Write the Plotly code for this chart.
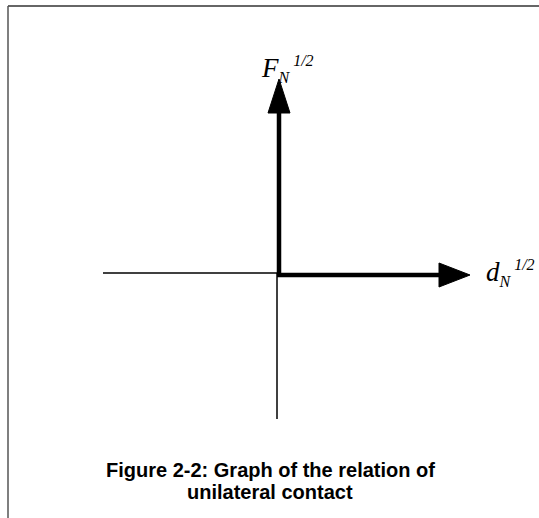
import plotly.graph_objects as go

# ---- data (diagram units, origin at the axes crossing) ----
thin_h_x = [-174, 0]
thin_h_y = [0, 0]
thin_v_x = [0, 0]
thin_v_y = [0, -146]

thick_v_x = [2, 2]
thick_v_y = [-1, 166]
thick_v_tip = 194
thick_v_half = 11

thick_h_x = [0, 162]
thick_h_y = [-2, -2]
thick_h_tip = 193
thick_h_half = 12

small = "<span style='font-size:16px'><i>{}</i></span>"
label_f = "<i>F</i><sub>" + small.format("N") + "</sub><sup>" + small.format(" 1/2") + "</sup>"
label_d = "<i>d</i><sub>" + small.format("N") + "</sub><sup>" + small.format(" 1/2") + "</sup>"
caption_lines = ["Figure 2-2: Graph of the relation of", "unilateral contact"]
caption_y_px = [470, 492]

W, H = 539, 518
X_RANGE = [-277, 262]
Y_RANGE = [-245, 273]

fig = go.Figure()

# thin axes lines
fig.add_trace(go.Scatter(x=thin_h_x, y=thin_h_y, mode="lines",
                         line=dict(color="black", width=1.5), hoverinfo="skip"))
fig.add_trace(go.Scatter(x=thin_v_x, y=thin_v_y, mode="lines",
                         line=dict(color="black", width=1.5), hoverinfo="skip"))

# thick arrows (shafts)
fig.add_trace(go.Scatter(x=thick_v_x, y=thick_v_y, mode="lines",
                         line=dict(color="black", width=4.5), hoverinfo="skip"))
fig.add_trace(go.Scatter(x=thick_h_x, y=thick_h_y, mode="lines",
                         line=dict(color="black", width=4.5), hoverinfo="skip"))

# arrow heads (built from the shaft ends)
vx = thick_v_x[1]
vy = thick_v_y[1]
fig.add_trace(go.Scatter(
    x=[vx - thick_v_half, vx + thick_v_half, vx, vx - thick_v_half],
    y=[vy - 6, vy - 6, thick_v_tip, vy - 6],
    mode="lines", fill="toself", fillcolor="black",
    line=dict(color="black", width=1), hoverinfo="skip"))
hx = thick_h_x[1]
hy = thick_h_y[1]
fig.add_trace(go.Scatter(
    x=[hx, hx, thick_h_tip, hx],
    y=[hy - thick_h_half, hy + thick_h_half, hy, hy - thick_h_half],
    mode="lines", fill="toself", fillcolor="black",
    line=dict(color="black", width=1), hoverinfo="skip"))

# axis labels
fig.add_annotation(x=-18, y=204, text=label_f, showarrow=False,
                   xanchor="left", yanchor="middle",
                   font=dict(family="Liberation Serif", size=27, color="black"))
fig.add_annotation(x=207, y=0, text=label_d, showarrow=False,
                   xanchor="left", yanchor="middle",
                   font=dict(family="Liberation Serif", size=27, color="black"))

# caption
for line_text, ypx in zip(caption_lines, caption_y_px):
    fig.add_annotation(xref="paper", yref="paper", x=270 / W, y=1 - ypx / H,
                       text="<b>" + line_text + "</b>",
                       showarrow=False, xanchor="center", yanchor="middle",
                       font=dict(family="Liberation Sans", size=20, color="black"))

# frame (top and left edges)
fig.add_shape(type="line", xref="paper", yref="paper",
              x0=8 / W, x1=1, y0=1 - 6 / H, y1=1 - 6 / H,
              line=dict(color="#333333", width=1.5))
fig.add_shape(type="line", xref="paper", yref="paper",
              x0=8 / W, x1=8 / W, y0=0, y1=1 - 6 / H,
              line=dict(color="#555555", width=1.5))

fig.update_layout(
    width=W, height=H,
    margin=dict(l=0, r=0, t=0, b=0),
    paper_bgcolor="white", plot_bgcolor="white",
    showlegend=False,
    xaxis=dict(range=X_RANGE, visible=False, fixedrange=True),
    yaxis=dict(range=Y_RANGE, visible=False, fixedrange=True),
)

fig.write_html("out.html",
               config={"displayModeBar": False, "staticPlot": True},
               post_script="document.body.style.margin='0';"
                           "document.body.style.overflow='hidden';")
